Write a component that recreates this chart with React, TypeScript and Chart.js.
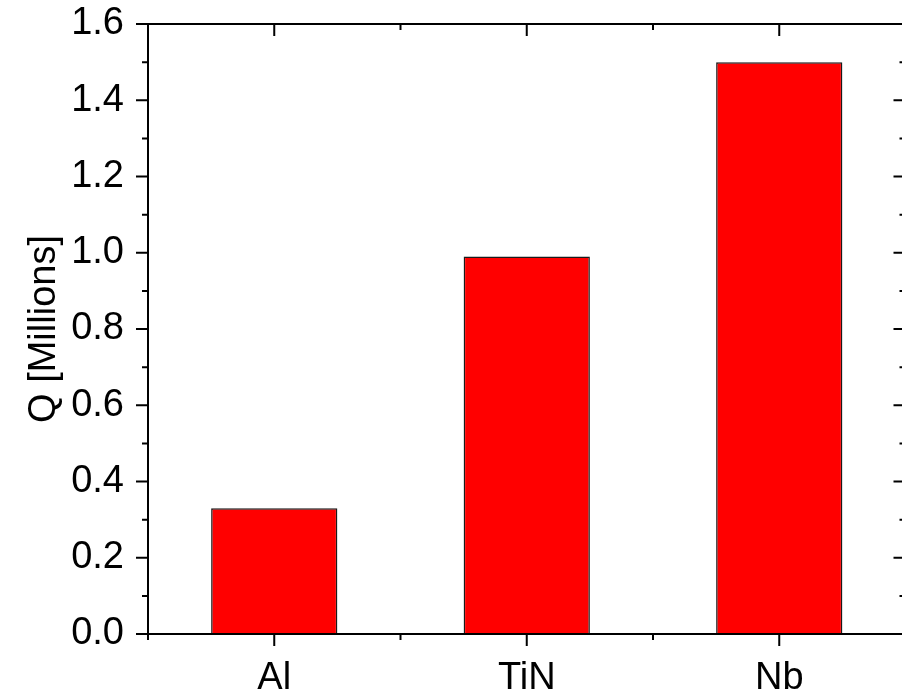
import React, { useEffect, useRef } from "react";
import { Chart, registerables } from "chart.js";

Chart.register(...registerables);

const categories = ["Al", "TiN", "Nb"];
const qValues = [0.33, 0.99, 1.5];
const yTickValues = [0, 0.2, 0.4, 0.6, 0.8, 1.0, 1.2, 1.4, 1.6];
const yAxisTitle = "Q [Millions]";

const FONT = "'Liberation Sans', Arial, sans-serif";

const framePlugin = {
  id: "frameTicks",
  afterDraw(chart: any) {
    const { ctx, chartArea } = chart;
    const xs = chart.scales.x;
    const ys = chart.scales.y;
    const { left, right, top, bottom } = chartArea;
    const MAJ = 12;
    const MIN = 6;
    ctx.save();
    ctx.strokeStyle = "#000";
    ctx.lineWidth = 2;
    ctx.lineCap = "butt";
    ctx.beginPath();
    ctx.rect(left, top, right - left, bottom - top);
    ctx.stroke();

    const hLine = (y: number, x0: number, x1: number) => {
      ctx.moveTo(x0, y);
      ctx.lineTo(x1, y);
    };
    const vLine = (x: number, y0: number, y1: number) => {
      ctx.moveTo(x, y0);
      ctx.lineTo(x, y1);
    };
    ctx.beginPath();
    for (let i = 0; i < yTickValues.length; i++) {
      const py = ys.getPixelForValue(yTickValues[i]);
      hLine(py, left - MAJ, left);
      hLine(py, right, right - MAJ);
      if (i < yTickValues.length - 1) {
        const mv = (yTickValues[i] + yTickValues[i + 1]) / 2;
        const pm = ys.getPixelForValue(mv);
        hLine(pm, left - MIN, left);
        hLine(pm, right, right - MIN);
      }
    }
    for (let i = 0; i < categories.length; i++) {
      const px = xs.getPixelForValue(i);
      vLine(px, bottom, bottom + MAJ);
      vLine(px, top, top + MAJ);
    }
    for (let i = 0; i <= categories.length; i++) {
      const px = xs.getPixelForValue(i - 0.5);
      vLine(px, bottom, bottom + MIN);
      vLine(px, top, top + MIN);
    }
    ctx.stroke();
    ctx.restore();
  },
};

export default function App() {
  const ref = useRef<HTMLCanvasElement>(null);
  useEffect(() => {
    if (!ref.current) return;
    const chart = new Chart(ref.current, {
      type: "bar",
      data: {
        labels: categories,
        datasets: [
          {
            data: qValues,
            backgroundColor: "#ff0000",
            borderColor: "#1a1a1a",
            borderWidth: 1.5,
            barPercentage: 0.5,
            categoryPercentage: 1,
          },
        ],
      },
      options: {
        responsive: false,
        animation: false,
        layout: { padding: { left: 0, top: 24, right: 14.5, bottom: 0 } },
        plugins: { legend: { display: false }, tooltip: { enabled: false } },
        scales: {
          x: {
            type: "category",
            offset: true,
            grid: { display: false },
            border: { display: false },
            ticks: {
              color: "#000",
              font: { family: FONT, size: 38 },
              padding: 14,
              maxRotation: 0,
            },
            afterFit: (s: any) => {
              s.height = 56;
              s.paddingLeft = 0;
              s.paddingRight = 0;
            },
          },
          y: {
            min: 0,
            max: 1.6,
            grid: { display: false },
            border: { display: false },
            ticks: {
              stepSize: 0.2,
              color: "#000",
              font: { family: FONT, size: 38 },
              padding: 16,
              callback: (v: any) => Number(v).toFixed(1),
            },
            title: {
              display: true,
              text: yAxisTitle,
              color: "#000",
              font: { family: FONT, size: 38 },
              padding: { top: 22, bottom: 0 },
            },
            afterFit: (s: any) => {
              s.width = 148;
              s.paddingTop = 0;
              s.paddingBottom = 0;
            },
          },
        },
      },
      plugins: [framePlugin],
    });
    return () => chart.destroy();
  }, []);
  return (
    <div
      style={{
        position: "fixed",
        left: 0,
        top: 0,
        width: 902,
        height: 690,
        overflow: "hidden",
        background: "#fff",
      }}
    >
      <canvas ref={ref} width={920} height={690} style={{ display: "block" }} />
    </div>
  );
}
